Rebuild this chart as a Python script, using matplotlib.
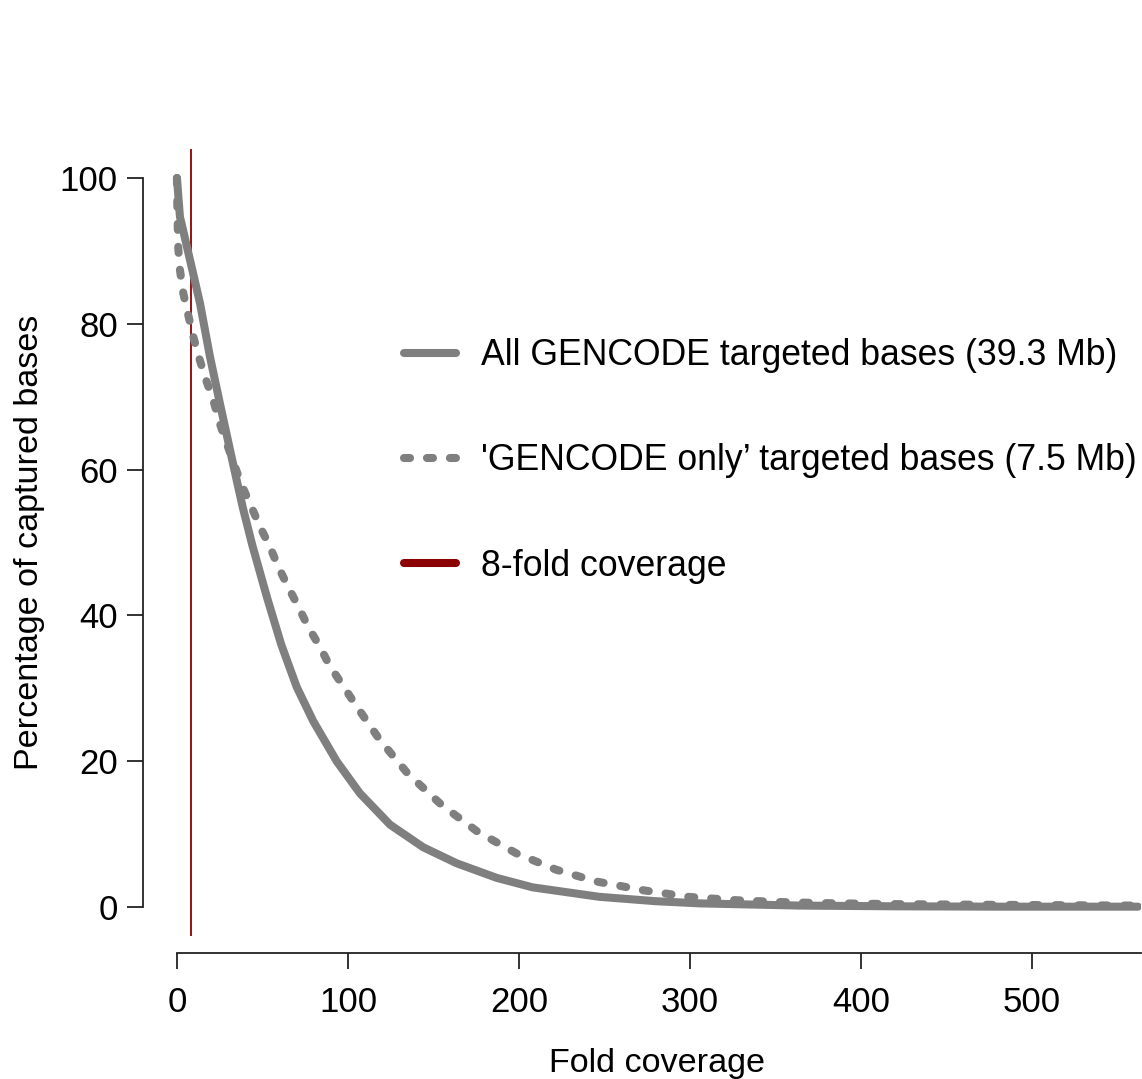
import matplotlib
matplotlib.use("Agg")
import matplotlib.pyplot as plt
from matplotlib.lines import Line2D

plt.rcParams['font.family'] = ['Liberation Sans', 'DejaVu Sans']

# ---- data ----
cov_all = [0, 1.75, 8, 13.5, 19.3, 25.1, 33, 38.5, 44, 52.5, 61, 70, 79.7, 93.4,
           107, 124.6, 144, 163.6, 187, 208, 247, 280, 306, 364, 420, 480, 562]
pct_all = [100, 94.7, 88.4, 82.8, 75.5, 69.1, 60.6, 54.8, 49.7, 42.6, 36.0, 30.2, 25.5, 20.0,
           15.6, 11.3, 8.2, 6.0, 4.0, 2.7, 1.4, 0.8, 0.5, 0.2, 0.1, 0.05, 0.05]

cov_only = [0, 0.3, 0.8, 1.75, 3.7, 6.6, 9.6, 13, 17, 21.3, 25.1, 33, 37.8, 43.7, 48.5,
            54.4, 59.2, 65, 71, 76.8, 83.6, 89.5, 97.3, 104, 118.7, 135, 154.8, 176,
            198.6, 222, 245.4, 272.7, 299, 325, 350.7, 376, 420, 480, 562]
pct_only = [100, 95, 90.3, 87.4, 84.2, 81.2, 78.2, 75.3, 72.3, 69.5, 66.3, 61, 57.9, 54.8, 52.2,
            49.4, 46.7, 43.9, 41.2, 38.4, 35.7, 33.0, 30.3, 27.9, 22.9, 18.3, 14.0, 10.3,
            7.35, 5.1, 3.5, 2.3, 1.4, 0.96, 0.7, 0.55, 0.4, 0.3, 0.2]

threshold = 8
labels = ["All GENCODE targeted bases (39.3 Mb)",
          "'GENCODE only\u2019 targeted bases (7.5 Mb)",
          "8-fold coverage"]
x_ticks = [0, 100, 200, 300, 400, 500]
y_ticks = [0, 20, 40, 60, 80, 100]

GREY = '#7F7F7F'
RED = '#8B0000'

W, H = 1142, 1079
fig = plt.figure(figsize=(W / 100, H / 100), dpi=100)
fig.patch.set_facecolor('white')

# axes area in pixels: x 140..1141.4, y 148.8..936.2
ax = fig.add_axes([140 / W, 1 - 936.2 / H, (1141.4 - 140) / W, (936.2 - 148.8) / H])
ax.set_xlim(-21.6, 564)
ax.set_ylim(-4, 104)
ax.patch.set_alpha(0)

ax.axvline(threshold, color=RED, lw=1.3, zorder=1)

l1, = ax.plot(cov_all, pct_all, color=GREY, lw=5.8, solid_capstyle='round',
              solid_joinstyle='round', zorder=3)
l2, = ax.plot(cov_only, pct_only, color=GREY, lw=5.8, zorder=3,
              dash_capstyle='round', dash_joinstyle='round')
l2.set_dashes((0.75, 2.1))

# axes styling (R-like separate axes)
for s in ['top', 'right']:
    ax.spines[s].set_visible(False)
ax.spines['left'].set_position(('data', -19.9))
ax.spines['left'].set_bounds(0, 100)
ax.spines['bottom'].set_position(('outward', 12.2))
ax.spines['bottom'].set_bounds(0, 564)
for s in ['left', 'bottom']:
    ax.spines[s].set_linewidth(1.3)
    ax.spines[s].set_color('#222222')

ax.set_xticks(x_ticks)
ax.set_yticks(y_ticks)
ax.tick_params(axis='both', length=11.5, width=1.3, color='#222222', labelsize=25)
ax.tick_params(axis='x', pad=12.5)
ax.tick_params(axis='y', pad=6.5)

# legend
h1 = Line2D([], [], color=GREY, lw=5.8, solid_capstyle='round')
h2 = Line2D([], [], color=GREY, lw=5.8, dash_capstyle='round')
h2.set_dashes((0.75, 2.1))
h3 = Line2D([], [], color=RED, lw=5.8, solid_capstyle='round')
leg = ax.legend([h1, h2, h3], labels, loc='upper left', frameon=False, fontsize=25.7,
                handlelength=1.45, handletextpad=0.7, labelspacing=1.97,
                borderpad=0, borderaxespad=0,
                bbox_to_anchor=(404 / W, 1 - 338 / H), bbox_transform=fig.transFigure)

fig.text(30 / W, 1 - 542 / H, "Percentage of captured bases", rotation=90,
         ha='center', va='center', fontsize=24.6)
fig.text(657 / W, 1 - 1072 / H, "Fold coverage", ha='center', va='baseline', fontsize=24.6)

fig.savefig('out.png', dpi=100, facecolor='white')
